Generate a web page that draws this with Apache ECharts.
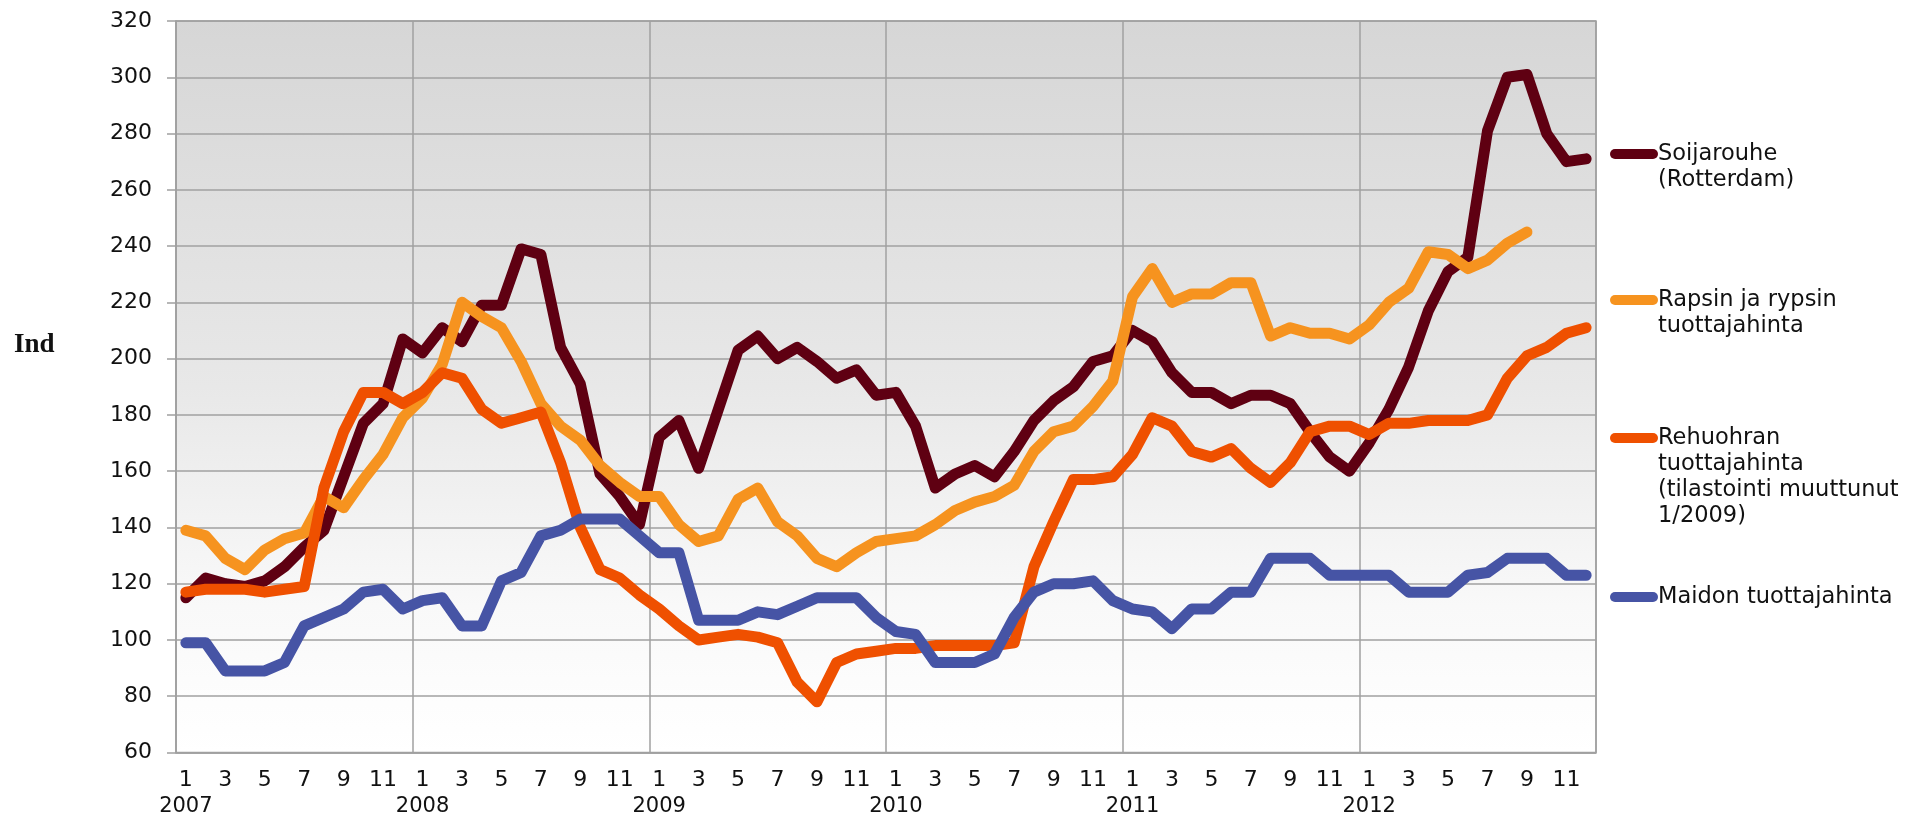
<!DOCTYPE html>
<html>
<head>
<meta charset="utf-8">
<script src="https://cdn.jsdelivr.net/npm/echarts@6/dist/echarts.min.js"></script>
<style>
  html, body { margin: 0; padding: 0; background: #fff; }
  #main { width: 1929px; height: 817px; }
</style>
</head>
<body>
<div id="main"></div>
<script>
// kuukausittaiset indeksit 2007-2012
var years = ['2007', '2008', '2009', '2010', '2011', '2012'];
var months = [1, 2, 3, 4, 5, 6, 7, 8, 9, 10, 11, 12];

var soijarouhe = [
  115, 122, 120, 119, 121, 126, 133, 139, 158, 177, 184, 207,
  202, 211, 206, 219, 219, 239, 237, 204, 191, 159, 151, 141,
  172, 178, 161, 182, 203, 208, 200, 204, 199, 193, 196, 187,
  188, 176, 154, 159, 162, 158, 167, 178, 185, 190, 199, 201,
  210, 206, 195, 188, 188, 184, 187, 187, 184, 174, 165, 160,
  170, 182, 197, 217, 231, 236, 281, 300, 301, 280, 270, 271
];
var rapsin = [
  139, 137, 129, 125, 132, 136, 138, 151, 147, 157, 166, 179,
  186, 198, 220, 215, 211, 199, 184, 176, 171, 162, 156, 151,
  151, 141, 135, 137, 150, 154, 142, 137, 129, 126, 131, 135,
  136, 137, 141, 146, 149, 151, 155, 167, 174, 176, 183, 192,
  222, 232, 220, 223, 223, 227, 227, 208, 211, 209, 209, 207,
  212, 220, 225, 238, 237, 232, 235, 241, 245, null, null, null
];
var rehuohra = [
  117, 118, 118, 118, 117, 118, 119, 154, 174, 188, 188, 184,
  188, 195, 193, 182, 177, 179, 181, 163, 140, 125, 122, 116,
  111, 105, 100, 101, 102, 101, 99, 85, 78, 92, 95, 96,
  97, 97, 98, 98, 98, 98, 99, 126, 142, 157, 157, 158,
  166, 179, 176, 167, 165, 168, 161, 156, 163, 174, 176, 176,
  173, 177, 177, 178, 178, 178, 180, 193, 201, 204, 209, 211
];
var maito = [
  99, 99, 89, 89, 89, 92, 105, 108, 111, 117, 118, 111,
  114, 115, 105, 105, 121, 124, 137, 139, 143, 143, 143, 137,
  131, 131, 107, 107, 107, 110, 109, 112, 115, 115, 115, 108,
  103, 102, 92, 92, 92, 95, 108, 117, 120, 120, 121, 114,
  111, 110, 104, 111, 111, 117, 117, 129, 129, 129, 123, 123,
  123, 123, 117, 117, 117, 123, 124, 129, 129, 129, 123, 123
];

var names = [
  'Soijarouhe\n(Rotterdam)',
  'Rapsin ja rypsin\ntuottajahinta',
  'Rehuohran\ntuottajahinta\n(tilastointi muuttunut\n1/2009)',
  'Maidon tuottajahinta'
];
var colors = ['#5f0012', '#f6931f', '#ef5000', '#4654a5'];
var values = [soijarouhe, rapsin, rehuohra, maito];

var categories = [];
years.forEach(function (y) {
  months.forEach(function (m) { categories.push(y + '/' + m); });
});

var font = 'DejaVu Sans';
var gridCol = '#a0a0a0';

var myChart = echarts.init(document.getElementById('main'));

// selite oikealle, viiva ensimmäisen rivin kohdalle
var legendTops = [154, 300, 438, 597];
var legendGraphics = names.map(function (n, i) {
  return {
    type: 'group',
    left: 1610,
    top: legendTops[i] - 13,
    children: [
      {
        type: 'line',
        shape: { x1: 6, y1: 13, x2: 44, y2: 13 },
        style: { stroke: colors[i], lineWidth: 10, lineCap: 'round' }
      },
      {
        type: 'text',
        x: 49,
        y: 0,
        style: {
          text: n,
          fill: '#111',
          font: '22.5px "' + font + '"',
          lineHeight: 26,
          verticalAlign: 'top'
        }
      }
    ]
  };
});
legendGraphics.push({
  type: 'text',
  left: 14,
  top: 332,
  style: { text: 'Ind', fill: '#111', font: 'bold 27px "Liberation Serif"' }
});

myChart.setOption({
  animation: false,
  backgroundColor: '#fff',
  grid: {
    left: 176, right: 333, top: 21, bottom: 60,
    show: true,
    borderWidth: 1.5,
    borderColor: gridCol,
    backgroundColor: new echarts.graphic.LinearGradient(0, 0, 0, 1, [
      { offset: 0, color: '#d6d6d6' },
      { offset: 0.5, color: '#e8e8e8' },
      { offset: 0.8, color: '#f9f9f9' },
      { offset: 1, color: '#ffffff' }
    ])
  },
  xAxis: {
    type: 'category',
    data: categories,
    boundaryGap: true,
    axisLine: { lineStyle: { color: gridCol, width: 1.5 } },
    axisTick: { interval: 11, length: 8, lineStyle: { color: gridCol, width: 1.5 } },
    splitLine: { show: true, interval: 11, lineStyle: { color: gridCol, width: 1.5 } },
    axisLabel: {
      interval: 1,
      margin: 14,
      color: '#111',
      fontFamily: font,
      fontSize: 22,
      formatter: function (v, idx) {
        var m = idx % 12 + 1;
        return m === 1 ? '{mo|' + m + '}\n{yr|' + years[Math.floor(idx / 12)] + '}' : '{mo|' + m + '}';
      },
      rich: {
        mo: { fontFamily: font, fontSize: 22, color: '#111', lineHeight: 28 },
        yr: { fontFamily: font, fontSize: 21, color: '#111', lineHeight: 24 }
      }
    }
  },
  yAxis: {
    type: 'value',
    min: 60,
    max: 320,
    interval: 20,
    axisLine: { show: true, lineStyle: { color: gridCol, width: 1.5 } },
    axisTick: { show: true, length: 9, lineStyle: { color: gridCol, width: 1.5 } },
    splitLine: { lineStyle: { color: gridCol, width: 1.5 } },
    axisLabel: { margin: 24, color: '#111', fontFamily: font, fontSize: 22 }
  },
  graphic: legendGraphics,
  series: values.map(function (d, i) {
    return {
      name: names[i],
      type: 'line',
      data: d,
      showSymbol: false,
      symbol: 'none',
      connectNulls: false,
      lineStyle: { color: colors[i], width: 11, cap: 'round', join: 'round' },
      itemStyle: { color: colors[i] }
    };
  })
});
</script>
</body>
</html>
